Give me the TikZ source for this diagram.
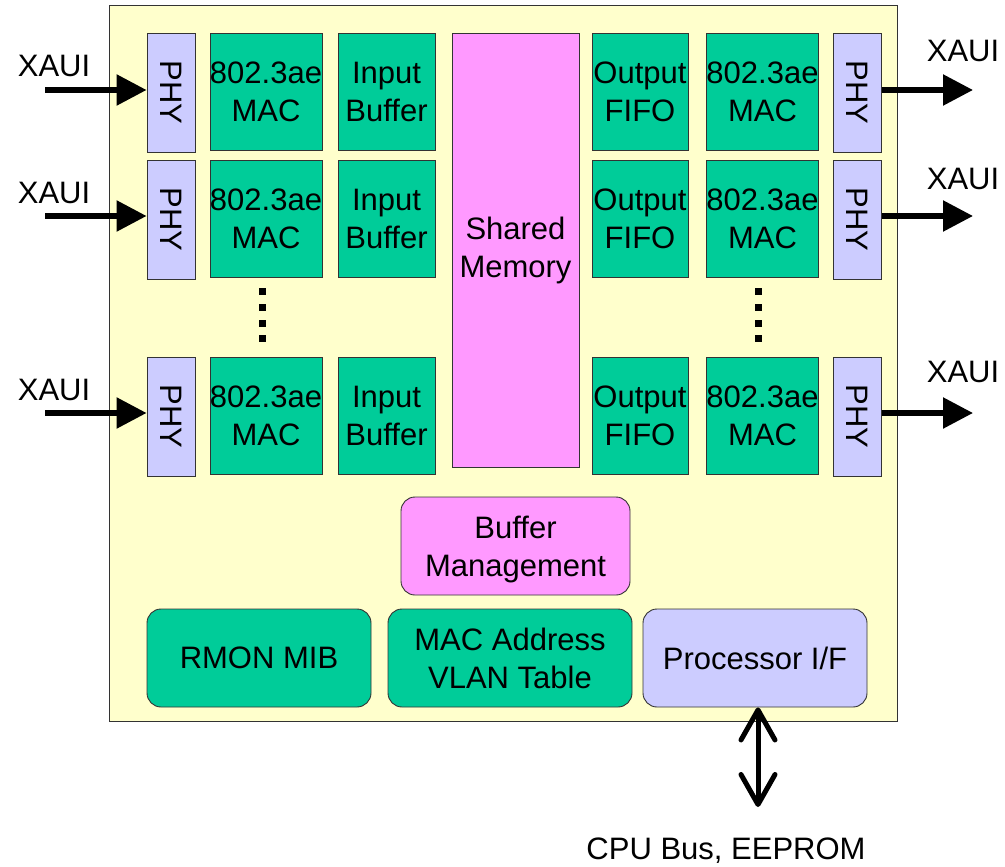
\documentclass[tikz,border=0pt]{standalone}
\usepackage{fontspec}
\setmainfont{Liberation Sans}
\usetikzlibrary{arrows.meta}
\definecolor{chipbg}{HTML}{FFFFCC}
\definecolor{macgreen}{HTML}{00CC99}
\definecolor{phyblue}{HTML}{CCCCFF}
\definecolor{mempink}{HTML}{FF99FF}
\definecolor{edgegray}{HTML}{333333}
\tikzset{
  blk/.style={draw=edgegray, line width=0.9pt, inner sep=0pt, align=center,
    font=\fontsize{31}{38}\selectfont},
  greenblk/.style={blk, fill=macgreen},
  phyblk/.style={blk, fill=phyblue, minimum width=48pt, minimum height=119pt},
  roundblk/.style={blk, rounded corners=14pt, minimum height=98pt},
  lbl/.style={font=\fontsize{31}{38}\selectfont, inner sep=0pt, anchor=base},
  inarrow/.style={line width=5.5pt, -{Triangle[length=30pt,width=30pt]}},
  busarrow/.style={line width=5pt, line cap=round,
    {Straight Barb[length=30pt,width=34pt,round]}-{Straight Barb[length=30pt,width=34pt,round]}}
}
\begin{document}
\begin{tikzpicture}[x=1pt,y=-1pt]
\useasboundingbox (0,0) rectangle (1005,867);

% chip outline
\node[draw=edgegray, fill=chipbg, line width=0.9pt, minimum width=788pt,
  minimum height=716pt, inner sep=0pt] (chip) at (503,363) {};

% port rows: tops at 33, 160, 357
\foreach \r/\yc in {1/91.5, 2/218.5, 3/415.5} {
  \node[phyblk] (phyL\r) at (171,\yc+1) {\rotatebox{-90}{PHY}};
  \node[greenblk, minimum width=112pt, minimum height=117pt] (macL\r) at (266,\yc) {802.3ae\\MAC};
  \node[greenblk, minimum width=97pt, minimum height=117pt] (ibuf\r) at (386.5,\yc) {Input\\Buffer};
  \node[greenblk, minimum width=96pt, minimum height=117pt] (ofifo\r) at (640,\yc) {Output\\FIFO};
  \node[greenblk, minimum width=111pt, minimum height=117pt] (macR\r) at (762.5,\yc) {802.3ae\\MAC};
  \node[phyblk] (phyR\r) at (857.5,\yc+1) {\rotatebox{-90}{PHY}};
}

% shared memory
\node[blk, fill=mempink, minimum width=127pt, minimum height=434pt] (mem) at (515.5,250) {Shared\\Memory};

% ellipsis dots between rows 2 and 3
\foreach \x in {262,758} {
  \foreach \y in {291,307,323,338} {
    \fill (\x-3.5,\y-3.5) rectangle (\x+3.5,\y+3.5);
  }
}

% lower blocks
\node[roundblk, fill=mempink, minimum width=229pt, text depth=0pt] (bufmgmt) at (515.5,546) {Buffer\\Management};
\node[roundblk, fill=macgreen, minimum width=224pt] (rmon) at (259,658) {RMON MIB};
\node[roundblk, fill=macgreen, minimum width=244pt] (mactab) at (510,658) {MAC Address\\VLAN Table};
\node[roundblk, fill=phyblue, minimum width=224pt] (proc) at (755,658) {Processor I/F};

% XAUI inputs
\foreach \r/\y/\b in {1/90/77, 2/216/203, 3/413/400} {
  \coordinate (inL\r) at (45,\y);
  \node[lbl] (xL\r) at (54,\b) {XAUI};
  \draw[inarrow] (inL\r) -- (phyL\r.west |- inL\r);
}
% XAUI outputs
\foreach \r/\y/\b in {1/90/62, 2/216/189, 3/413/382} {
  \coordinate (outR\r) at (973,\y);
  \node[lbl] (xR\r) at (963,\b) {XAUI};
  \draw[inarrow] (phyR\r.east |- outR\r) -- (outR\r);
}

% processor bus
\coordinate (busend) at (758,807);
\draw[busarrow] (busend |- proc.south) -- (busend);
\node[lbl] (cpubus) at (726,859.5) {CPU Bus, EEPROM};
\end{tikzpicture}
\end{document}
